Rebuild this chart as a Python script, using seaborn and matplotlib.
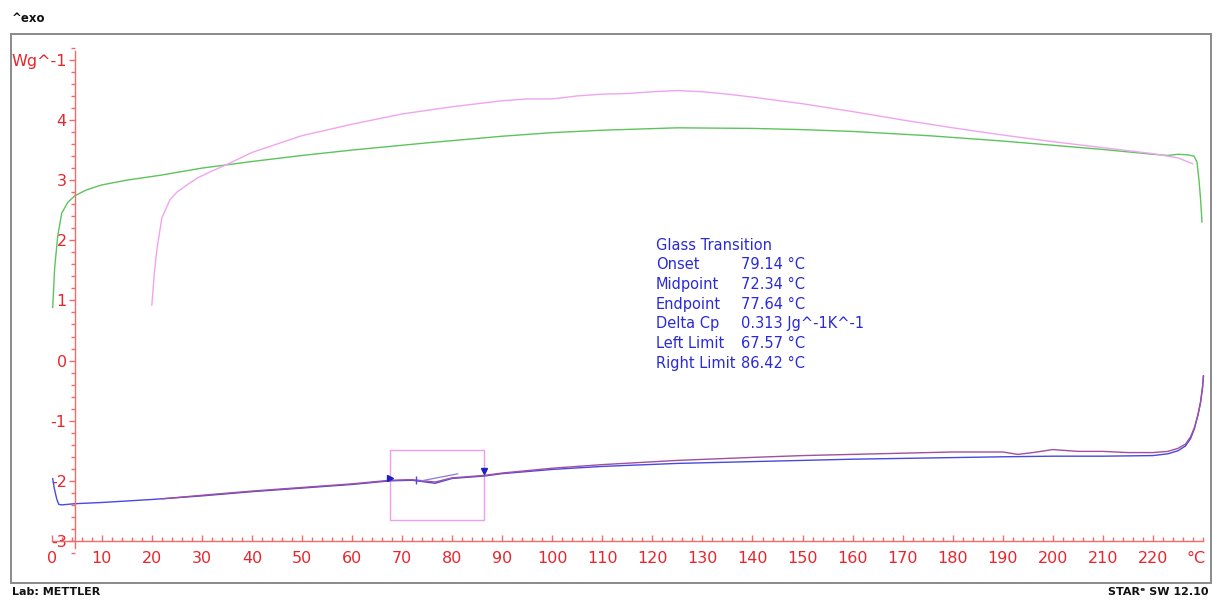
import numpy as np
import pandas as pd
import matplotlib
matplotlib.use("Agg")
import matplotlib.pyplot as plt
import matplotlib.transforms as mtransforms
from matplotlib.patches import Rectangle
from matplotlib.ticker import MultipleLocator, FixedLocator, FixedFormatter
import seaborn as sns

# ---- DSC curves: temperature (°C) and heat flow (W/g) ----
green_T = [0.2, 0.6, 1.2, 2.0, 3.2, 4.6, 7, 10, 15, 21.6, 30, 40, 50, 60, 75, 90, 100,
           110, 125, 140, 150, 160, 175, 190, 200, 210, 215, 220, 223, 225, 227,
           228.2, 228.8, 229.2, 229.5, 229.8]
green_hf = [0.88, 1.55, 2.07, 2.45, 2.63, 2.74, 2.84, 2.92, 3.0, 3.08, 3.2, 3.31, 3.41,
            3.5, 3.62, 3.73, 3.79, 3.83, 3.87, 3.86, 3.84, 3.81, 3.74, 3.65, 3.58,
            3.51, 3.47, 3.43, 3.41, 3.43, 3.42, 3.40, 3.3, 3.0, 2.7, 2.3]

pink_T = [20.0, 20.5, 21.0, 22.0, 23.6, 25, 27, 29.2, 32, 35, 40, 50, 60, 70, 80, 90,
          95, 100, 105, 110, 115, 120, 125, 130, 135, 140, 150, 160, 170, 180, 190,
          200, 210, 220, 225, 228.0]
pink_hf = [0.92, 1.45, 1.84, 2.37, 2.67, 2.8, 2.92, 3.04, 3.15, 3.26, 3.46, 3.74, 3.93,
           4.1, 4.22, 4.32, 4.35, 4.35, 4.4, 4.43, 4.44, 4.47, 4.49, 4.47, 4.43, 4.38,
           4.27, 4.14, 4.0, 3.87, 3.75, 3.64, 3.54, 3.44, 3.37, 3.27]

blue_T = [0.2, 0.5, 1.0, 1.4, 2.0, 4.6, 10, 20, 30, 40, 50, 60, 67.6, 72, 76.6, 80,
          86.4, 90, 100, 110, 125, 140, 150, 160, 175, 190, 200, 210, 220, 223, 225,
          226.5, 227.5, 228.3, 229.0, 229.5, 229.9, 230.1]
blue_hf = [-1.96, -2.12, -2.3, -2.39, -2.4, -2.38, -2.36, -2.31, -2.25, -2.18, -2.12,
           -2.06, -2.0, -1.99, -2.04, -1.96, -1.92, -1.88, -1.81, -1.76, -1.71, -1.68,
           -1.66, -1.64, -1.62, -1.6, -1.59, -1.59, -1.58, -1.55, -1.5, -1.42, -1.3,
           -1.13, -0.9, -0.7, -0.45, -0.25]

purple_T = [22, 30, 40, 50, 60, 67.6, 72, 76.6, 80, 86.4, 90, 100, 110, 125, 140, 150,
            160, 170, 180, 185, 190, 193, 196, 200, 205, 210, 215, 220, 223, 225,
            226.5, 227.5, 228.3, 229.0, 229.5, 229.9, 230.1]
purple_hf = [-2.3, -2.24, -2.17, -2.11, -2.05, -1.99, -1.98, -2.02, -1.95, -1.91,
             -1.87, -1.79, -1.73, -1.66, -1.61, -1.58, -1.56, -1.54, -1.52, -1.52,
             -1.52, -1.56, -1.53, -1.48, -1.51, -1.51, -1.53, -1.53, -1.51, -1.46,
             -1.39, -1.27, -1.11, -0.9, -0.7, -0.45, -0.25]

curve_names = ["green", "pink", "blue", "purple"]
curve_colors = ["#5cc45c", "#f0a4f0", "#4848e2", "#a24fa0"]

# ---- Glass transition evaluation ----
gt_labels = ["Onset", "Midpoint", "Endpoint", "Delta Cp", "Left Limit", "Right Limit"]
gt_values = ["79.14 °C", "72.34 °C", "77.64 °C", "0.313 Jg^-1K^-1", "67.57 °C", "86.42 °C"]
left_limit, right_limit = 67.57, 86.42
midpoint, onset = 72.34, 79.14
box_low, box_high = -2.65, -1.48

# ---- Axis ticks ----
x_ticks = list(range(0, 230, 10))
y_ticks = [-3, -2, -1, 0, 1, 2, 3, 4, 5]
y_ticklabels = ["-3", "-2", "-1", "0", "1", "2", "3", "4", "Wg^-1"]

sns.set_theme(style="white")
plt.rcParams["font.family"] = ["DejaVu Sans"]
plt.rcParams["axes.unicode_minus"] = False

AXIS_RED = "#f26a6a"
TEXT_RED = "#e8252d"
TEXT_BLUE = "#2a2ad8"

W, H = 1213, 601
fig = plt.figure(figsize=(W / 100, H / 100), dpi=100)
fig.patch.set_facecolor("white")

# outer frame
fig.patches.append(Rectangle((11 / W, 1 - 583 / H), 1200 / W, 549 / H,
                             transform=fig.transFigure, fill=False,
                             edgecolor="#8a8a8a", linewidth=1.4, zorder=0))

ax = fig.add_axes([45 / W, 46 / H, 1160 / W, 510 / H])
ax.set_facecolor("none")

frames = []
for name, T, hf in [("green", green_T, green_hf), ("pink", pink_T, pink_hf),
                    ("blue", blue_T, blue_hf), ("purple", purple_T, purple_hf)]:
    frames.append(pd.DataFrame({"T": T, "hf": hf, "curve": name}))
df = pd.concat(frames, ignore_index=True)

sns.lineplot(data=df, x="T", y="hf", hue="curve", hue_order=curve_names,
             palette=dict(zip(curve_names, curve_colors)), sort=False,
             estimator=None, units="curve", legend=False, linewidth=1.0, ax=ax)

# glass transition marks on the heating curve
def on_curve(t):
    return float(np.interp(t, blue_T, blue_hf))

ax.add_patch(Rectangle((left_limit, box_low), right_limit - left_limit,
                       box_high - box_low, fill=False, edgecolor="#ee9cee",
                       linewidth=1.0))
ax.plot([left_limit], [on_curve(left_limit) + 0.05], marker=">", markersize=4,
        color="#2020c0", linestyle="none")
ax.plot([right_limit], [on_curve(right_limit) + 0.08], marker="v", markersize=4,
        color="#2020c0", linestyle="none")
ax.plot([midpoint + 0.5], [on_curve(midpoint)], marker="|", markersize=6,
        color="#4848e2", linestyle="none")
ax.plot([midpoint + 1.5, onset + 2.0],
        [on_curve(midpoint + 1.5) + 0.01, on_curve(onset + 2.0) + 0.07],
        color="#8a7ae0", linewidth=0.9)

# axes limits and spines crossing like the instrument plot
ax.set_xlim(-1.34, 230.4)
ax.set_ylim(-3.233, 5.247)
for s in ["top", "right"]:
    ax.spines[s].set_visible(False)
ax.spines["left"].set_position(("data", 4.66))
ax.spines["bottom"].set_position(("data", -3))
ax.spines["left"].set_bounds(-3.12, 5.15)
ax.spines["bottom"].set_bounds(0, 230)
for s in ["left", "bottom"]:
    ax.spines[s].set_color(AXIS_RED)
    ax.spines[s].set_linewidth(1.0)

ax.xaxis.set_major_locator(FixedLocator(x_ticks))
ax.xaxis.set_minor_locator(MultipleLocator(2))
ax.yaxis.set_major_locator(FixedLocator(y_ticks))
ax.yaxis.set_major_formatter(FixedFormatter(y_ticklabels))
ax.yaxis.set_minor_locator(MultipleLocator(0.2))

ax.tick_params(axis="x", which="major", direction="in", length=4, width=1,
               color=AXIS_RED, labelcolor=TEXT_RED, labelsize=11.5, pad=7)
ax.tick_params(axis="x", which="minor", direction="in", length=3, width=1,
               color=AXIS_RED)
ax.tick_params(axis="y", which="major", direction="out", length=4, width=1,
               color=AXIS_RED, labelcolor=TEXT_RED, labelsize=11.5, pad=2)
ax.tick_params(axis="y", which="minor", direction="out", length=3, width=1,
               color=AXIS_RED)
ax.tick_params(bottom=True, left=True, which="both")
ax.set_xlabel("")
ax.set_ylabel("")
ax.grid(False)

unit_tr = mtransforms.offset_copy(ax.transData, fig=fig, y=-7, units="points")
ax.text(228.6, -3, "°C", transform=unit_tr, ha="center", va="top",
        color=TEXT_RED, fontsize=11.5)

# glass transition results table
y0 = 1 - 245 / H
dy = 19.7 / H
fig.text(656 / W, y0, "Glass Transition", color=TEXT_BLUE, fontsize=10.5,
         va="center", ha="left")
for i, (lab, val) in enumerate(zip(gt_labels, gt_values), start=1):
    fig.text(656 / W, y0 - i * dy, lab, color=TEXT_BLUE, fontsize=10.5,
             va="center", ha="left")
    fig.text(741 / W, y0 - i * dy, val, color=TEXT_BLUE, fontsize=10.5,
             va="center", ha="left")

# header and footer
fig.text(12 / W, 1 - 18 / H, "^exo", fontsize=8.5, fontweight="bold",
         color="#111111", va="center", ha="left")
fig.text(12 / W, 1 - 592 / H, "Lab: METTLER", fontsize=8, fontweight="bold",
         color="#111111", va="center", ha="left")
fig.text(1209 / W, 1 - 592 / H, "STARᵉ SW 12.10", fontsize=8, fontweight="bold",
         color="#111111", va="center", ha="right")

fig.savefig("out.png", dpi=100)
